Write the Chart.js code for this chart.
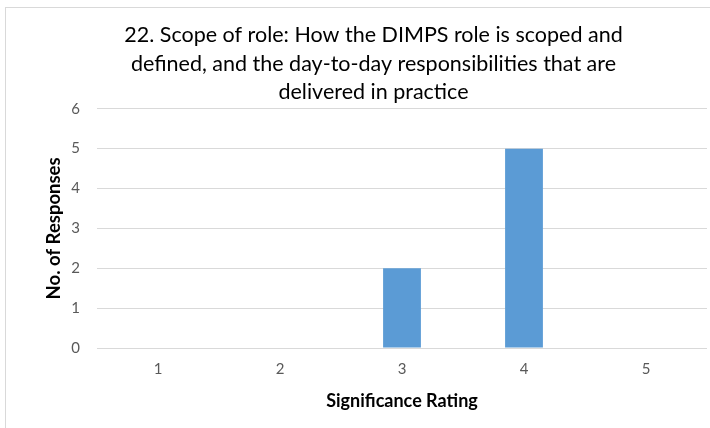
<!DOCTYPE html>
<html><head><meta charset="utf-8">
<script src="https://cdn.jsdelivr.net/npm/chart.js@4"></script>
<style>html,body{margin:0;padding:0;background:#fff;}#wrap{width:710px;height:428px;position:relative;}</style>
</head><body><div id="wrap"><canvas id="c" width="710" height="428"></canvas></div>
<script>
const categories = ['1','2','3','4','5'];
const responses = [0,0,2,5,0];
const titleLines = ['22. Scope of role: How the DIMPS role is scoped and','defined, and the day-to-day responsibilities that are','delivered in practice'];
const FONT = 'Lato, "Open Sans", sans-serif';
const borderPlugin = {id:'border', beforeDraw(chart){const ctx=chart.ctx;ctx.save();ctx.fillStyle='#fff';ctx.fillRect(0,0,chart.width,chart.height);ctx.strokeStyle='#d9d9d9';ctx.lineWidth=1;ctx.strokeRect(5.5,7.5,720,440);ctx.restore();}};
new Chart(document.getElementById('c'),{
  type:'bar',
  data:{labels:categories,datasets:[{data:responses,backgroundColor:'#5B9BD5',barPercentage:0.31,categoryPercentage:1}]},
  plugins:[borderPlugin],
  options:{responsive:false,animation:false,
    layout:{padding:{left:40,right:3,top:0,bottom:16}},
    plugins:{legend:{display:false},tooltip:{enabled:false},
      title:{display:true,text:titleLines,color:'#000',font:{family:FONT,size:21.5,weight:'normal',lineHeight:1.33},padding:{top:21,bottom:2}}},
    scales:{
      x:{grid:{display:false,drawTicks:false},border:{display:false},
        ticks:{color:'#595959',font:{family:FONT,size:15},padding:12},
        title:{display:true,text:'Significance Rating',color:'#000',font:{family:FONT,size:18,weight:'bold'},padding:{top:12,bottom:0}},
        afterFit(s){s.height=64;}},
      y:{min:0,max:6,grid:{color:'#d9d9d9',drawTicks:false},border:{display:false},
        ticks:{stepSize:1,color:'#595959',font:{family:FONT,size:15},padding:17},
        title:{display:true,text:'No. of Responses',color:'#000',font:{family:FONT,size:18.5,weight:'bold'},padding:{top:3,bottom:0}},
        afterFit(s){s.width=57;}}
    }}
});
</script></body></html>
